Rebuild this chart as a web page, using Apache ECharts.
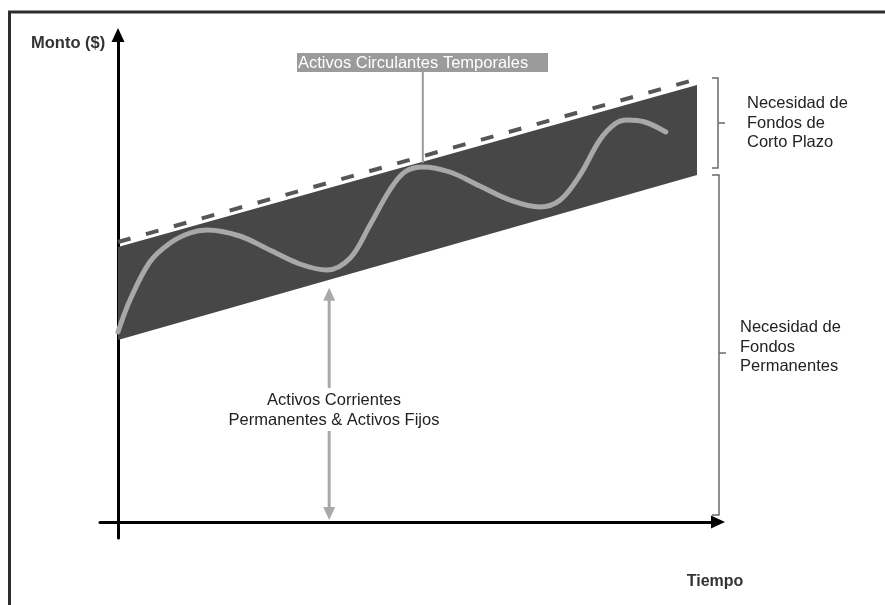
<!DOCTYPE html>
<html>
<head>
<meta charset="utf-8">
<script src="https://cdn.jsdelivr.net/npm/echarts@6/dist/echarts.min.js"></script>
<style>
  html, body { margin: 0; padding: 0; background: #fff; }
  #chart { width: 885px; height: 605px; }
</style>
</head>
<body>
<div id="chart"></div>
<script>
// Time span of the financing band
const bandTime = [0, 96.5];
// Lower edge: permanent current assets plus fixed assets
const permanentLevel = [36.4, 69.4];
// Upper edge of the shaded band
const peakLevel = [55, 87.4];
// Dashed trend of total needs above the band
const peakTrend = [56, 88.6];
// Fluctuating temporary current assets
const waveTime = [0, 2, 5.3, 8.7, 12, 14.8, 20.3, 25.3, 30.3, 34.8, 38.7, 42, 45.3, 47.8, 50.8, 55.3, 60.3, 65.3, 70.3, 73.7, 77, 80.3, 82.8, 84.8, 87.8, 91.3];
const waveLevel = [38, 44.4, 52, 55.8, 57.8, 58.4, 57.2, 54.4, 51.6, 50.4, 52.8, 59.4, 66.4, 70, 71, 70, 67.2, 64.4, 63, 64.4, 69.4, 76.4, 79.6, 80.4, 80, 78];
// Where the labelled annotations attach
const arrowTime = 35.2;
const leaderIndex = 14;

const FONT = '"Liberation Sans", Arial, sans-serif';

function lerp(a, b, t) { return a + (b - a) * t; }

const chart = echarts.init(document.getElementById('chart'));

const axisBase = {
  type: 'value',
  axisLine: {
    show: true,
    onZero: true,
    symbol: ['none', 'triangle'],
    symbolSize: [13, 14],
    lineStyle: { color: '#000', width: 3 }
  },
  axisTick: { show: false },
  axisLabel: { show: false },
  splitLine: { show: false }
};

function renderBand(params, api) {
  const p = [
    api.coord([bandTime[0], permanentLevel[0]]),
    api.coord([bandTime[1], permanentLevel[1]]),
    api.coord([bandTime[1], peakLevel[1]]),
    api.coord([bandTime[0], peakLevel[0]])
  ];
  return { type: 'polygon', shape: { points: p }, style: { fill: '#474747' } };
}

function arrowHead(x, y, dir, color) {
  // dir: -1 points up, 1 points down
  return {
    type: 'polygon',
    shape: { points: [[x, y], [x - 6, y - dir * 13], [x + 6, y - dir * 13]] },
    style: { fill: color }
  };
}

function renderNotes(params, api) {
  const children = [];
  const braceColor = '#6a6a6a';

  // Brace for the short-term needs (between the band edges at the end)
  const bx = api.coord([bandTime[1], 0])[0] + 21;
  const t1 = api.coord([bandTime[1], peakTrend[1]])[1] - 1;
  const b1 = api.coord([bandTime[1], permanentLevel[1]])[1] - 7;
  const m1 = (t1 + b1) / 2;
  children.push({
    type: 'polyline',
    shape: { points: [[bx - 6, t1], [bx, t1], [bx, b1], [bx - 6, b1]] },
    style: { stroke: braceColor, lineWidth: 1.5, fill: null }
  });
  children.push({
    type: 'line', shape: { x1: bx, y1: m1, x2: bx + 7, y2: m1 },
    style: { stroke: braceColor, lineWidth: 1.5 }
  });

  // Brace for the permanent needs (from zero up to the lower edge)
  const t2 = api.coord([bandTime[1], permanentLevel[1]])[1];
  const b2 = api.coord([bandTime[1], 0])[1] - 7;
  const m2 = (t2 + b2) / 2 + 8;
  children.push({
    type: 'polyline',
    shape: { points: [[bx - 6, t2], [bx + 1, t2], [bx + 1, b2], [bx - 6, b2]] },
    style: { stroke: braceColor, lineWidth: 1.5, fill: null }
  });
  children.push({
    type: 'line', shape: { x1: bx + 1, y1: m2, x2: bx + 8, y2: m2 },
    style: { stroke: braceColor, lineWidth: 1.5 }
  });

  // Double arrow from the axis up to the permanent level
  const arrowColor = '#a9a9a9';
  const frac = (arrowTime - bandTime[0]) / (bandTime[1] - bandTime[0]);
  const lowAt = lerp(permanentLevel[0], permanentLevel[1], frac);
  const top = api.coord([arrowTime, lowAt]);
  const ax = top[0];
  const ay1 = top[1] + 8;
  const ay2 = api.coord([arrowTime, 0])[1] - 2;
  children.push(arrowHead(ax, ay1, -1, arrowColor));
  children.push(arrowHead(ax, ay2, 1, arrowColor));
  children.push({
    type: 'line', shape: { x1: ax, y1: ay1 + 10, x2: ax, y2: 388 },
    style: { stroke: arrowColor, lineWidth: 3 }
  });
  children.push({
    type: 'line', shape: { x1: ax, y1: 431, x2: ax, y2: ay2 - 10 },
    style: { stroke: arrowColor, lineWidth: 3 }
  });

  // Leader from the wave crest to its label
  const crest = api.coord([waveTime[leaderIndex], waveLevel[leaderIndex]]);
  children.push({
    type: 'line', shape: { x1: crest[0], y1: crest[1] - 4, x2: crest[0], y2: 72 },
    style: { stroke: '#9a9a9a', lineWidth: 2 }
  });

  return { type: 'group', children: children };
}

const textStyle = (text, x, y, opts) => Object.assign({
  type: 'text',
  style: Object.assign({
    text: text, x: x, y: y,
    font: '16.5px ' + FONT,
    fill: '#222',
    textAlign: 'left',
    textVerticalAlign: 'middle'
  }, opts || {})
});

const option = {
  backgroundColor: '#fff',
  animation: false,
  grid: { left: 100, top: 35, width: 618, height: 503 },
  xAxis: Object.assign({}, axisBase, { min: -3, max: 100 }),
  yAxis: Object.assign({}, axisBase, { min: -3.2, max: 97.4 }),
  series: [
    {
      type: 'custom',
      renderItem: renderBand,
      data: [[bandTime[0], permanentLevel[0]]],
      z: 2,
      silent: true
    },
    {
      type: 'line',
      data: bandTime.map((t, i) => [t, peakTrend[i]]),
      showSymbol: false,
      lineStyle: { color: '#565656', width: 4, type: [13, 16] },
      z: 3,
      silent: true
    },
    {
      type: 'line',
      data: waveTime.map((t, i) => [t, waveLevel[i]]),
      smooth: 0.35,
      showSymbol: false,
      lineStyle: { color: '#a8a8a8', width: 5, cap: 'round' },
      z: 4,
      silent: true
    },
    {
      type: 'custom',
      renderItem: renderNotes,
      data: [[0, 0]],
      z: 5,
      silent: true
    }
  ],
  graphic: [
    {
      type: 'rect', z: -1,
      shape: { x: 9.5, y: 12, width: 900, height: 620 },
      style: { fill: null, stroke: '#2e2e2e', lineWidth: 3 }
    },
    textStyle('Monto ($)', 31, 43, { font: 'bold 16.5px ' + FONT, fill: '#333' }),
    textStyle('Tiempo', 715, 582, { font: 'bold 16px ' + FONT, fill: '#333', textAlign: 'center' }),
    {
      type: 'rect',
      shape: { x: 297, y: 53, width: 251, height: 19 },
      style: { fill: '#9b9b9b' }
    },
    textStyle('Activos Circulantes Temporales', 298, 63, { font: '16.5px ' + FONT, fill: '#fff' }),
    textStyle('Activos Corrientes', 334, 400, { textAlign: 'center' }),
    textStyle('Permanentes & Activos Fijos', 334, 420, { textAlign: 'center' }),
    textStyle('Necesidad de', 747, 103),
    textStyle('Fondos de', 747, 123),
    textStyle('Corto Plazo', 747, 142),
    textStyle('Necesidad de', 740, 327),
    textStyle('Fondos', 740, 347),
    textStyle('Permanentes', 740, 366)
  ]
};

chart.setOption(option);
</script>
</body>
</html>
